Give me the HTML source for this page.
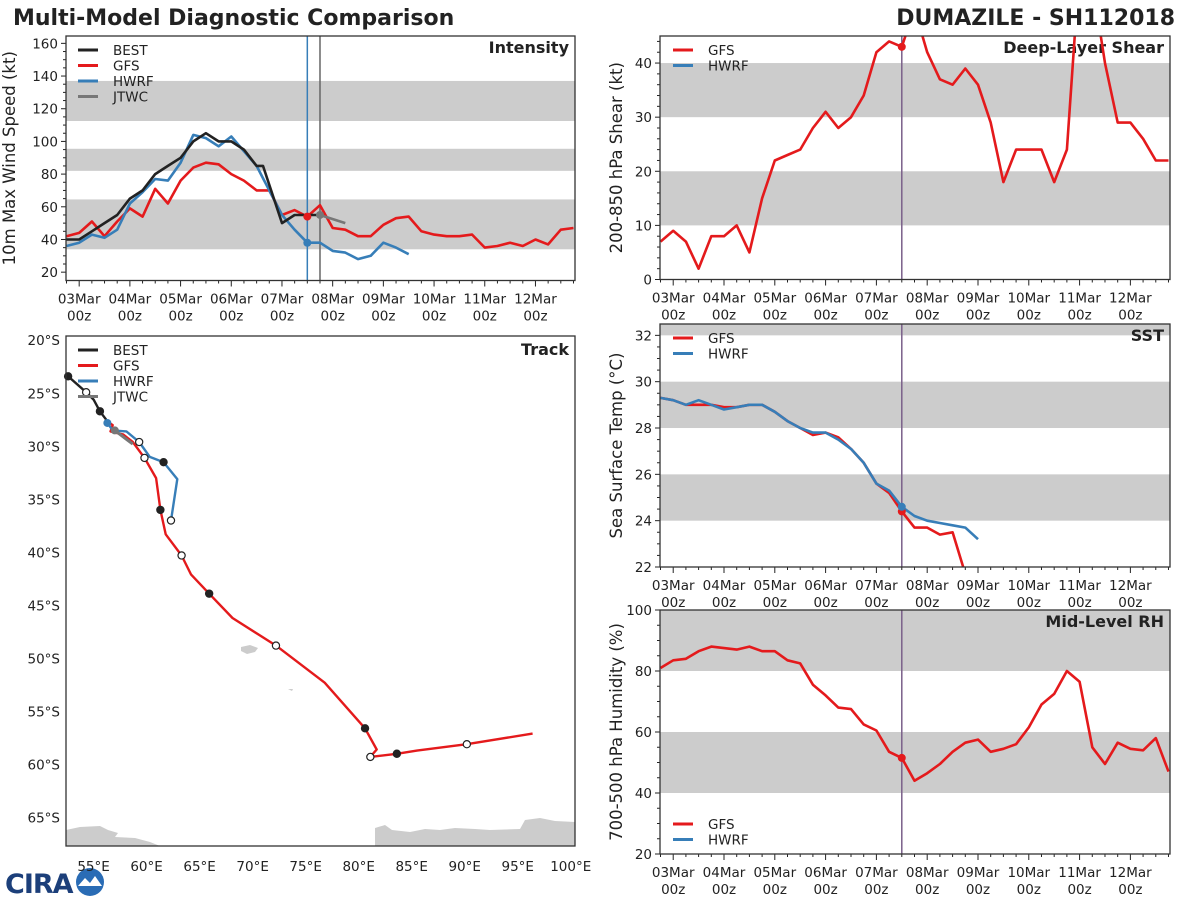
<!DOCTYPE html>
<html><head><meta charset="utf-8">
<style>
html,body{margin:0;padding:0;background:#fff;}
svg text{font-family:"DejaVu Sans","Liberation Sans",sans-serif;fill:#222;}
</style></head>
<body>
<svg id="chart" xmlns="http://www.w3.org/2000/svg" width="1200" height="900" viewBox="0 0 1200 900">
<rect x="0" y="0" width="1200" height="900" fill="#fff"/>
<text x="13" y="25" font-size="22" font-weight="bold">Multi-Model Diagnostic Comparison</text>
<text x="1175" y="25" font-size="22" font-weight="bold" text-anchor="end">DUMAZILE - SH112018</text>
<g>
<text x="5" y="893" font-size="27" font-weight="bold" style="fill:#1c3f7a;letter-spacing:-1px">CIRA</text>
<circle cx="90" cy="882" r="14" fill="#2a6cb5"/>
<path d="M78 886 L85 878 L90 883 L95 876 L102 886 Z" fill="#fff"/>
</g>
</svg>
<script>
// ---------- data ----------
var intensityTimes = [];
for (var i = 0; i < 41; i++) { intensityTimes.push(-0.25 + 0.25 * i); }
var dayLabels = ["03Mar","04Mar","05Mar","06Mar","07Mar","08Mar","09Mar","10Mar","11Mar","12Mar"];
var bestTimes = [-0.25,0,0.25,0.5,0.75,1,1.25,1.5,1.75,2,2.25,2.5,2.75,3,3.25,3.5,3.625,4,4.25,4.5,4.75];
var bestIntensity = [40,40,45,50,55,65,70,80,85,90,100,105,100,100,95,85,85,50,55,55,55];
var gfsIntensity = [42,44,51,42,51,59,54,71,62,76,84,87,86,80,76,70,70,55,58,54,61,47,46,42,42,49,53,54,45,43,42,42,43,35,36,38,36,40,37,46,47];
var hwrfIntensity = [36,38,43,41,46,62,69,77,76,87,104,102,97,103,94,85,70,55,46,38,38,33,32,28,30,38,35,31];
var jtwcTimes = [4.75,5.25];
var jtwcIntensity = [55,50];
var gfsShear = [7,9,7,2,8,8,10,5,15,22,23,24,28,31,28,30,34,42,44,43,50,42,37,36,39,36,29,18,24,24,24,18,24,58,55,40,29,29,26,22,22];
var gfsSST = [29.3,29.2,29.0,29.0,29.0,28.9,28.9,29.0,29.0,28.7,28.3,28.0,27.7,27.8,27.6,27.1,26.5,25.6,25.2,24.4,23.7,23.7,23.4,23.5,21.7];
var hwrfSST = [29.3,29.2,29.0,29.2,29.0,28.8,28.9,29.0,29.0,28.7,28.3,28.0,27.8,27.8,27.5,27.1,26.5,25.6,25.3,24.6,24.2,24.0,23.9,23.8,23.7,23.2];
var gfsRH = [81,83.5,84,86.5,88,87.5,87,88,86.5,86.5,83.5,82.5,75.5,72,68,67.5,62.5,60.5,53.5,51.5,44,46.5,49.5,53.5,56.5,57.5,53.5,54.5,56,61.5,69,72.5,80,76.5,55,49.5,56.5,54.5,54,58,47];
var initTime = 4.5;
var jtwcInitTime = 4.75;
var bestTrackLon = [52.6,54.3,55.0,55.6,56.2];
var bestTrackLat = [23.4,24.9,25.6,26.7,27.5];
var bestTrackMarks = [1,0,-1,1,-1];
var gfsTrackLon = [56.5,56.8,56.6,57.8,58.7,59.8,60.9,61.3,61.8,63.3,64.2,65.9,68.1,72.2,76.8,80.6,81.7,81.1,83.6,85.5,90.2,96.4];
var gfsTrackLat = [27.8,28.0,28.6,28.9,29.6,31.1,33.0,36.0,38.3,40.3,42.1,43.9,46.2,48.8,52.3,56.6,58.6,59.3,59.0,58.7,58.1,57.1];
var gfsTrackMarks = [-1,-1,-1,-1,-1,0,-1,1,-1,0,-1,1,-1,0,-1,1,-1,0,1,-1,0,-1];
var hwrfTrackLon = [56.3,56.8,58.1,59.3,60.3,61.6,62.9,62.3];
var hwrfTrackLat = [27.8,28.5,28.6,29.6,31.0,31.5,33.1,37.0];
var hwrfTrackMarks = [-1,-1,-1,0,-1,1,-1,0];
var jtwcTrackLon = [57.0,58.7];
var jtwcTrackLat = [28.5,29.8];
var latTicks = [20,25,30,35,40,45,50,55,60,65];
var lonTicks = [55,60,65,70,75,80,85,90,95,100];

var RED = "#e41a1c", BLUE = "#377eb8", BLACK = "#222222", GRAY = "#777777", BAND = "#cccccc";
var NS = "http://www.w3.org/2000/svg";
var svg = document.getElementById("chart");
var clipCount = 0;

function mk(parent, tag, attrs) {
  var e = document.createElementNS(NS, tag);
  for (var k in attrs) e.setAttribute(k, attrs[k]);
  parent.appendChild(e);
  return e;
}
function txt(parent, x, y, s, size, anchor, weight) {
  var t = mk(parent, "text", {x: x, y: y, "font-size": size, "text-anchor": anchor || "start"});
  if (weight) t.setAttribute("font-weight", weight);
  t.textContent = s;
  return t;
}

function timePanel(cfg) {
  var g = mk(svg, "g", {});
  
  
  var sx = function (d) { return cfg.x0 + (d - (-0.26)) * (cfg.x1 - cfg.x0) / 10.04; };
  var sy = function (v) { return cfg.y1 - (v - cfg.ymin) * (cfg.y1 - cfg.y0) / (cfg.ymax - cfg.ymin); };
  cfg.sx = sx; cfg.sy = sy;
  var id = "clip" + (clipCount++);
  var cp = mk(svg, "clipPath", {id: id});
  mk(cp, "rect", {x: cfg.x0, y: cfg.y0, width: cfg.x1 - cfg.x0, height: cfg.y1 - cfg.y0});
  cfg.clip = "url(#" + id + ")";
  cfg.bands.forEach(function (b) {
    var top = Math.min(b[1], cfg.ymax);
    var r = mk(g, "rect", {x: cfg.x0, y: sy(top), width: cfg.x1 - cfg.x0, height: sy(b[0]) - sy(top), fill: BAND});
    
    
  });
  for (var v = cfg.yMinorStart; v <= cfg.ymax + 1e-6; v += cfg.yMinor) {
    var yy = sy(v);
    if (yy < cfg.y0 - 0.5 || yy > cfg.y1 + 0.5) continue;
    var isMajor = Math.abs((v - cfg.yMajorStart) / cfg.yMajor - Math.round((v - cfg.yMajorStart) / cfg.yMajor)) < 1e-6;
    mk(g, "line", {x1: cfg.x0, x2: cfg.x0 - (isMajor ? 5 : 3), y1: yy, y2: yy, stroke: "#222", "stroke-width": 1});
    if (isMajor) {
      var tl = txt(g, cfg.x0 - 8, yy + 5, String(Math.round(v)), 13.5, "end");
      
      
    }
  }
  for (var q = -1; q <= 39; q++) {
    var d = q * 0.25;
    var xx = sx(d);
    if (xx < cfg.x0 || xx > cfg.x1) continue;
    var major = (q % 4 === 0);
    mk(g, "line", {x1: xx, x2: xx, y1: cfg.y1, y2: cfg.y1 + (major ? 6 : 3), stroke: "#222", "stroke-width": 1});
  }
  dayLabels.forEach(function (lab, k) {
    var xx = sx(k);
    var t1 = txt(g, xx, cfg.y1 + 23, lab, 13.5, "middle");
    
    
    var t2 = txt(g, xx, cfg.y1 + 40, "00z", 13.5, "middle");
    
    
  });
  var cy = (cfg.y0 + cfg.y1) / 2;
  var yl = txt(g, 0, 0, cfg.ylabel, 16.5, "middle");
  yl.setAttribute("transform", "translate(" + cfg.ylx + "," + cy + ") rotate(-90)");
  
  
  var pt = txt(g, cfg.x1 - 6, cfg.y0 + 17, cfg.title, 16, "end", "bold");
  
  
  cfg.g = g;
  return cfg;
}
function frame(cfg) {
  var f = mk(cfg.g, "rect", {x: cfg.x0, y: cfg.y0, width: cfg.x1 - cfg.x0, height: cfg.y1 - cfg.y0, fill: "none", stroke: "#333", "stroke-width": 1.3});
  
  
}
function series(cfg, times, vals, color, name) {
  var pts = [];
  for (var i = 0; i < vals.length; i++) {
    if (vals[i] === null) continue;
    pts.push(cfg.sx(times[i]).toFixed(1) + "," + cfg.sy(vals[i]).toFixed(1));
  }
  var p = mk(cfg.g, "polyline", {points: pts.join(" "), fill: "none", stroke: color, "stroke-width": 2.6, "stroke-linejoin": "round", "clip-path": cfg.clip});
  
  
}
function vline(cfg, d, color, name) {
  var l = mk(cfg.g, "line", {x1: cfg.sx(d), x2: cfg.sx(d), y1: cfg.y0, y2: cfg.y1, stroke: color, "stroke-width": 1.5});
  
  
}
function dot(cfg, d, v, color, name) {
  var c = mk(cfg.g, "circle", {cx: cfg.sx(d), cy: cfg.sy(v), r: 4, fill: color});
  
  
}
function valueAt(times, vals, d) {
  for (var i = 0; i < times.length; i++) if (Math.abs(times[i] - d) < 1e-6) return vals[i];
  return null;
}
function legend(g, x, y, items) {
  items.forEach(function (it, k) {
    var yy = y + k * 15.5;
    var ln = mk(g, "line", {x1: x, x2: x + 20, y1: yy, y2: yy, stroke: it[1], "stroke-width": 3});
    
    
    var t = txt(g, x + 35, yy + 5, it[0], 13.5, "start");
    
    
  });
}

var P1 = timePanel({name: "intensity", x0: 66, x1: 575, y0: 36, y1: 280.5, ymin: 14.9, ymax: 164.5,
  bands: [[34, 64.5], [82, 95.5], [112.5, 137]], yMajor: 20, yMajorStart: 20, yMinor: 5, yMinorStart: 20,
  ylabel: "10m Max Wind Speed (kt)", ylx: 15, title: "Intensity"});
vline(P1, initTime, BLUE, "hwrf-init-line");
vline(P1, jtwcInitTime, "#666", "jtwc-init-line");
series(P1, intensityTimes, gfsIntensity, RED, "gfs-intensity-line");
series(P1, intensityTimes, hwrfIntensity, BLUE, "hwrf-intensity-line");
series(P1, bestTimes, bestIntensity, BLACK, "best-intensity-line");
series(P1, jtwcTimes, jtwcIntensity, GRAY, "jtwc-intensity-line");
dot(P1, initTime, valueAt(intensityTimes, gfsIntensity, initTime), RED, "gfs-init-point");
dot(P1, initTime, valueAt(intensityTimes, hwrfIntensity, initTime), BLUE, "hwrf-init-point");
dot(P1, jtwcInitTime, jtwcIntensity[0], GRAY, "jtwc-init-point");
legend(P1.g, 78, 50, [["BEST", BLACK], ["GFS", RED], ["HWRF", BLUE], ["JTWC", GRAY]]);
frame(P1);

var P2 = timePanel({name: "shear", x0: 660, x1: 1170, y0: 36, y1: 279.5, ymin: 0, ymax: 45,
  bands: [[10, 20], [30, 40]], yMajor: 10, yMajorStart: 0, yMinor: 2, yMinorStart: 0,
  ylabel: "200-850 hPa Shear (kt)", ylx: 622, title: "Deep-Layer Shear"});
vline(P2, initTime, "#7a5f8a", "init-time-line");
series(P2, intensityTimes, gfsShear, RED, "gfs-shear-line");
dot(P2, initTime, valueAt(intensityTimes, gfsShear, initTime), RED, "gfs-shear-init-point");
legend(P2.g, 673, 50, [["GFS", RED], ["HWRF", BLUE]]);
frame(P2);

var P3 = timePanel({name: "sst", x0: 660, x1: 1170, y0: 324, y1: 567, ymin: 22, ymax: 32.49,
  bands: [[24, 26], [28, 30], [32, 33]], yMajor: 2, yMajorStart: 22, yMinor: 0.5, yMinorStart: 22,
  ylabel: "Sea Surface Temp (°C)", ylx: 622, title: "SST"});
vline(P3, initTime, "#7a5f8a", "init-time-line");
series(P3, intensityTimes, gfsSST, RED, "gfs-sst-line");
series(P3, intensityTimes, hwrfSST, BLUE, "hwrf-sst-line");
dot(P3, initTime, valueAt(intensityTimes, gfsSST, initTime), RED, "gfs-sst-init-point");
dot(P3, initTime, valueAt(intensityTimes, hwrfSST, initTime), BLUE, "hwrf-sst-init-point");
legend(P3.g, 673, 338, [["GFS", RED], ["HWRF", BLUE]]);
frame(P3);

var P4 = timePanel({name: "rh", x0: 660, x1: 1170, y0: 610, y1: 854, ymin: 20, ymax: 100,
  bands: [[40, 60], [80, 100]], yMajor: 20, yMajorStart: 20, yMinor: 5, yMinorStart: 20,
  ylabel: "700-500 hPa Humidity (%)", ylx: 622, title: "Mid-Level RH"});
vline(P4, initTime, "#7a5f8a", "init-time-line");
series(P4, intensityTimes, gfsRH, RED, "gfs-rh-line");
dot(P4, initTime, valueAt(intensityTimes, gfsRH, initTime), RED, "gfs-rh-init-point");
legend(P4.g, 673, 824, [["GFS", RED], ["HWRF", BLUE]]);
frame(P4);

var T = {x0: 66, x1: 575, y0: 336, y1: 846};
var tg = mk(svg, "g", {});


var lonX = function (lon) { return T.x0 + (lon - 52.4) * (T.x1 - T.x0) / 48.0; };
var latY = function (lat) { return T.y0 + (lat - 19.6) * (T.y1 - T.y0) / 48.1; };
var tcp = mk(svg, "clipPath", {id: "trackclip"});
mk(tcp, "rect", {x: T.x0, y: T.y0, width: T.x1 - T.x0, height: T.y1 - T.y0});
var land = mk(tg, "g", {"clip-path": "url(#trackclip)", fill: "#cccccc"});


mk(land, "path", {d: "M66 830 L80 827 L100 826 L108 830 L118 833 L115 837 L135 838 L150 842 L160 846 L66 846 Z"});
mk(land, "path", {d: "M375 828 L385 825 L392 830 L410 832 L425 829 L440 830 L455 828 L475 829 L490 830 L520 829 L525 820 L540 818 L555 821 L575 822 L575 846 L375 846 Z"});
mk(land, "path", {d: "M241 647 L250 645 L258 648 L255 652 L247 654 L241 651 Z"});
mk(land, "path", {d: "M288 689 L293 689 L292 691 Z"});
latTicks.forEach(function (lat) {
  var t = txt(tg, 60, latY(lat) + 5, lat + "°S", 13.5, "end");
  
  
});
lonTicks.forEach(function (lon) {
  var t = txt(tg, lonX(lon), 871, lon + "°E", 13.5, "middle");
  
  
});
function track(lons, lats, marks, color, name, w) {
  var pts = lons.map(function (lo, i) { return lonX(lo).toFixed(1) + "," + latY(lats[i]).toFixed(1); });
  var p = mk(tg, "polyline", {points: pts.join(" "), fill: "none", stroke: color, "stroke-width": w || 2.4, "stroke-linejoin": "round", "clip-path": "url(#trackclip)"});
  
  
}
function trackMarks(lons, lats, marks, name) {
  marks.forEach(function (m, i) {
    if (m < 0) return;
    var c = mk(tg, "circle", {cx: lonX(lons[i]), cy: latY(lats[i]), r: 3.6, fill: m ? "#222" : "#fff", stroke: "#222", "stroke-width": 1.2});
    
    
  });
}
track(bestTrackLon, bestTrackLat, bestTrackMarks, BLACK, "best-track-line");
track(gfsTrackLon, gfsTrackLat, gfsTrackMarks, RED, "gfs-track-line");
track(hwrfTrackLon, hwrfTrackLat, hwrfTrackMarks, BLUE, "hwrf-track-line");
track(jtwcTrackLon, jtwcTrackLat, [], GRAY, "jtwc-track-line", 3);
trackMarks(bestTrackLon, bestTrackLat, bestTrackMarks, "best-track-marker");
trackMarks(gfsTrackLon, gfsTrackLat, gfsTrackMarks, "gfs-track-marker");
trackMarks(hwrfTrackLon, hwrfTrackLat, hwrfTrackMarks, "hwrf-track-marker");
var hs = mk(tg, "circle", {cx: lonX(hwrfTrackLon[0]), cy: latY(hwrfTrackLat[0]), r: 4, fill: BLUE});


var js = mk(tg, "circle", {cx: lonX(jtwcTrackLon[0]), cy: latY(jtwcTrackLat[0]), r: 4, fill: GRAY});


var tt = txt(tg, T.x1 - 6, T.y0 + 19, "Track", 16, "end", "bold");


legend(tg, 78, 350, [["BEST", BLACK], ["GFS", RED], ["HWRF", BLUE], ["JTWC", GRAY]]);
var tf = mk(tg, "rect", {x: T.x0, y: T.y0, width: T.x1 - T.x0, height: T.y1 - T.y0, fill: "none", stroke: "#333", "stroke-width": 1.3});


</script>
</body></html>
